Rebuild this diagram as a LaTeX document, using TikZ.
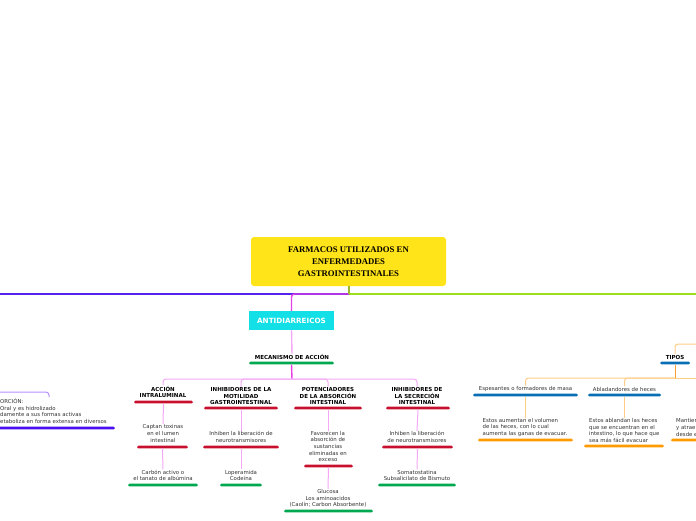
\documentclass[tikz,border=0pt]{standalone}
\usepackage{fontspec}
\setmainfont{DejaVu Sans}
\newfontfamily\titlefont{Liberation Serif}
\definecolor{ytitle}{HTML}{FFE419}
\definecolor{cyanbox}{HTML}{12E0E6}
\definecolor{magmain}{HTML}{E640E6}
\definecolor{pinklt}{HTML}{F5A8F5}
\definecolor{purpline}{HTML}{5522EE}
\definecolor{purplt}{HTML}{B690FF}
\definecolor{greenyel}{HTML}{99E01A}
\definecolor{olivev}{HTML}{9AB82A}
\definecolor{cred}{HTML}{C8102E}
\definecolor{cgreen}{HTML}{00A84F}
\definecolor{cblue}{HTML}{0A6EB4}
\definecolor{corange}{HTML}{FF9A00}
\definecolor{orangelt}{HTML}{FFCC88}
\definecolor{orangemid}{HTML}{F5A030}
\definecolor{violetbar}{HTML}{4A0FF0}
\begin{document}
\begin{tikzpicture}[x=1pt,y=-1pt,
  txt/.style={font=\fontsize{5.4}{6.6}\selectfont, align=center, inner sep=0.5pt, text=black!80},
  btxt/.style={font=\bfseries\fontsize{5.5}{6.5}\selectfont, align=center, inner sep=0.5pt, text=black},
  ltxt/.style={txt, align=left, anchor=west},
  ubar/.style={rectangle, rounded corners=1.4pt, minimum height=2.8pt, inner sep=0, minimum width=#1},
  pinkc/.style={draw=pinklt, line width=1pt, rounded corners=3pt},
  orangec/.style={draw=orangelt, line width=1pt, rounded corners=3pt}]
\useasboundingbox (0,0) rectangle (696,520);
\clip (0,0) rectangle (696,520);

% title
\node[fill=ytitle, rounded corners=3pt, minimum width=195, minimum height=49, inner sep=0,
      font=\titlefont\bfseries\fontsize{8.7}{12}\selectfont, align=center] (title) at (348.5,261.5)
      {FARMACOS UTILIZADOS EN\\ENFERMEDADES\\GASTROINTESTINALES};
\coordinate (j0) at (349,294);
\coordinate (eR) at (697,294);
\coordinate (eL) at (-1,294);

% antidiarreicos
\node[fill=cyanbox, minimum width=85, minimum height=19, inner sep=0, text=white,
      font=\bfseries\fontsize{7.2}{8}\selectfont] (anti) at (291.5,320.5) {ANTIDIARREICOS};

\draw[purpline, line width=1.4pt] (j0) -- (eL);
\draw[greenyel, line width=1.4pt] (j0) -- (eR);
\draw[magmain, line width=1.4pt, rounded corners=3pt] (j0) -- (anti.north |- j0) -- (anti.north);
\draw[olivev, line width=1.2pt] (title.south -| j0) -- (j0);

% mecanismo
\node[btxt] (mec) at (292,357) {MECANISMO DE ACCIÓN};
\node[ubar=85, fill=cgreen] (mecbar) at (291.5,363) {};
\draw[pinkc, line width=1.4pt] (anti.south) -- (mec.north);
\coordinate (j1) at (292,379);
\draw[magmain, line width=1.4pt] (mecbar.south) -- (j1);

% children
\node[btxt] (c1) at (163,392) {ACCIÓN\\INTRALUMINAL};
\node[ubar=59, fill=cred] (c1bar) at (163.5,402) {};
\node[btxt] (c2) at (241,396) {INHIBIDORES DE LA\\MOTILIDAD\\GASTROINTESTINAL};
\node[ubar=74, fill=cred] (c2bar) at (241,408) {};
\node[btxt] (c3) at (328,396) {POTENCIADORES\\DE LA ABSORCIÓN\\INTESTINAL};
\node[ubar=68, fill=cred] (c3bar) at (328,408) {};
\node[btxt] (c4) at (417,396) {INHIBIDORES DE\\LA SECRECIÓN\\INTESTINAL};
\node[ubar=64, fill=cred] (c4bar) at (418,408) {};
\draw[pinkc] (j1) -| (c1.north);
\draw[pinkc] (j1) -| (c2.north);
\draw[pinkc] (j1) -| (c3.north);
\draw[pinkc] (j1) -| (c4.north);

% grandchildren
\node[txt] (g1) at (163,433.5) {Captan toxinas\\en el lumen\\intestinal};
\node[ubar=51, fill=cred] (g1bar) at (162.5,447) {};
\node[txt] (g2) at (241,437) {Inhiben la liberación de\\neurotransmisores};
\node[ubar=76, fill=cred] (g2bar) at (241,447) {};
\node[txt] (g3) at (328,446.5) {Favorecen la\\absorción de\\sustancias\\eliminadas en\\exceso};
\node[ubar=49, fill=cred] (g3bar) at (328.5,466) {};
\node[txt] (g4) at (417,437) {Inhiben la liberación\\de neurotransmisores};
\node[ubar=71, fill=cred] (g4bar) at (417.5,447) {};
\draw[pinkc] (c1bar.south) -- (g1.north);
\draw[pinkc] (c2bar.south) -- (g2.north);
\draw[pinkc] (c3bar.south) -- (g3.north);
\draw[pinkc] (c4bar.south) -- (g4.north);

% great-grandchildren
\node[txt] (h1) at (163,475.5) {Carbón activo o\\el tanato de albúmina};
\node[ubar=70, fill=cgreen] (h1bar) at (163,485) {};
\node[txt] (h2) at (241,475.5) {Loperamida\\Codeína};
\node[ubar=42, fill=cgreen] (h2bar) at (241,485) {};
\node[txt] (h3) at (328,498.5) {Glucosa\\Los aminoacidos\\(Caolín; Carbon Absorbente)};
\node[ubar=89, fill=cgreen] (h3bar) at (328.5,511) {};
\node[txt] (h4) at (417,475.5) {Somatostatina\\Subsalicilato de Bismuto};
\node[ubar=78, fill=cgreen] (h4bar) at (417,485) {};
\draw[pinkc] (g1bar.south) -- (h1.north);
\draw[pinkc] (g2bar.south) -- (h2.north);
\draw[pinkc] (g3bar.south) -- (h3.north);
\draw[pinkc] (g4bar.south) -- (h4.north);

% left partial node
\node[ltxt] (lft) at (-0.5,411) {ORCIÓN:\\Oral y es hidrolizado\\damente a sus formas activas\\etaboliza en forma extensa en diversos};
\node[ubar=125, fill=violetbar] (lftbar) at (52.5,428) {};
\coordinate (lc) at (-1,392);
\coordinate (ltop) at (49,397);
\draw[purplt, line width=1pt, rounded corners=3pt] (lc) -| (ltop);

% right side
\node[btxt] (tipos) at (675,357) {TIPOS};
\node[ubar=30, fill=cblue] (tbar) at (675,363) {};
\coordinate (rc) at (697,344);
\draw[orangec] (rc) -| (tipos.north);
\coordinate (j2) at (675,378);
\draw[orangemid, line width=1pt] (tbar.south) -- (j2);
\coordinate (rc2) at (697,378);
\draw[orangec] (j2) -- (rc2);

\node[txt] (r1) at (525.5,389) {Espesantes o formadores de masa};
\node[ubar=105, fill=cblue] (r1bar) at (525.5,395) {};
\node[txt] (r2) at (624.5,389) {Abladandores de heces};
\node[ubar=73, fill=cblue] (r2bar) at (624.5,395) {};
\draw[orangec] (j2) -| (r1.north);
\draw[orangec] (j2) -| (r2.north);

\node[ltxt] (s1) at (482,427.5) {Estos aumentan el volumen\\de las heces, con lo cual\\aumenta las ganas de evacuar.};
\node[ubar=95, fill=corange] (s1bar) at (525.5,440) {};
\node[ltxt] (s2) at (588.5,430.5) {Estos ablandan las heces\\que se encuentran en el\\intestino, lo que hace que\\sea más fácil evacuar};
\node[ubar=80, fill=corange] (s2bar) at (624,446) {};
\node[ltxt] (s3) at (675.5,427.5) {Mantien\\y atrae\\desde e};
\node[ubar=40, fill=corange] (s3bar) at (691,440) {};
\draw[orangec] (r1bar.south) -- (r1bar.south |- s1.north);
\draw[orangec] (r2bar.south) -- (r2bar.south |- s2.north);
\end{tikzpicture}
\end{document}
